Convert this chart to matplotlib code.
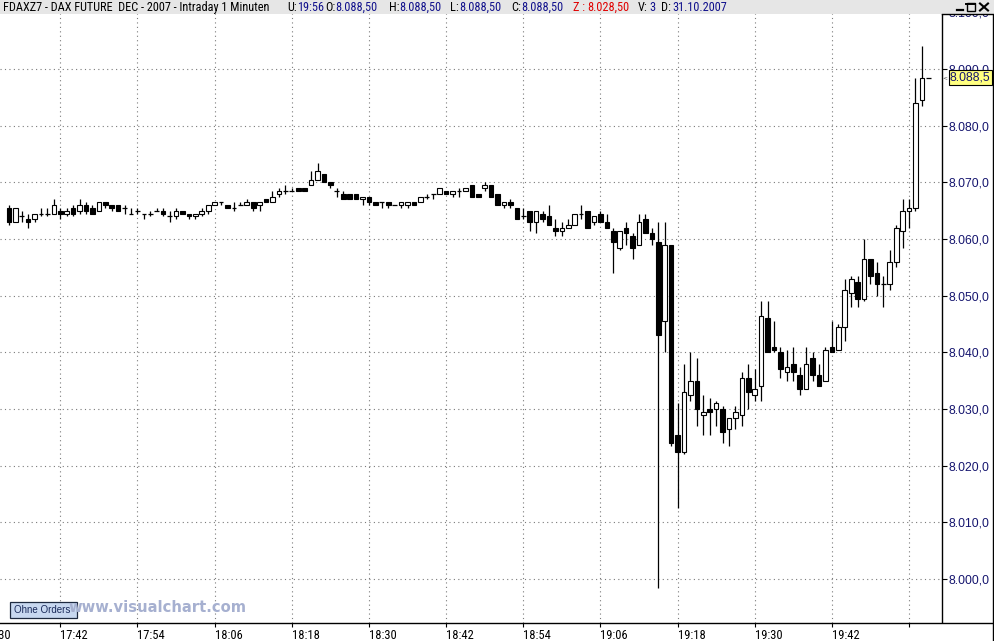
import matplotlib
matplotlib.use("Agg")
import matplotlib.pyplot as plt
from matplotlib.patches import Rectangle
from matplotlib.lines import Line2D
import matplotlib.font_manager as fm

# ---------------- data (1-minute bars, FDAX Dec 2007, 31.10.2007) ----------------
start_time = "17:34"
opens = [8065.5, 8063, 8064, 8063.5, 8063.5, 8064.5, 8064.5, 8064.5,
         8065, 8064.5, 8065.5, 8065, 8066, 8065.5, 8065, 8066.5, 8066, 8066, 8065.5, 8064.5,
         8065, 8064.5, 8064.5, 8065, 8065, 8064, 8064, 8065, 8064.5, 8064, 8064.5, 8065,
         8066, 8066.5, 8066, 8065.5, 8066, 8066, 8066.5, 8066, 8067, 8066.5, 8068, 8068.5,
         8068.5, 8069, 8069, 8069.5, 8070.5, 8071.5, 8070, 8068.5, 8068, 8068, 8068, 8067,
         8067.5, 8066.5, 8066.5, 8066.5, 8066, 8066, 8066, 8066.5, 8066.5, 8067.5, 8068, 8068,
         8068.5, 8068, 8068.5, 8068.5, 8069.5, 8068, 8069, 8069.5, 8068, 8066, 8066.5, 8065.5,
         8064, 8065, 8063, 8064.5, 8064, 8062, 8061.5, 8062, 8062.5, 8064.5, 8065, 8063,
         8064.5, 8063, 8061.5, 8058.5, 8062, 8060.5, 8059, 8063.5, 8061, 8059.5, 8045.5, 8059,
         8025.5, 8022.5, 8032.5, 8035, 8029, 8030, 8030, 8030, 8026.5, 8028.5, 8029, 8035.5,
         8032.5, 8034, 8046, 8041, 8040, 8036.5, 8038, 8036, 8033.5, 8039, 8036, 8035,
         8041, 8040.5, 8044.5, 8050.5, 8052.5, 8049.5, 8056.5, 8054, 8052, 8052, 8056, 8061.5,
         8065, 8065.5, 8084.5]
highs = [8066, 8065.5, 8065, 8064.5, 8064.5, 8065.5, 8065.5, 8067,
         8065.5, 8065.5, 8066, 8067, 8066.5, 8066, 8066.5, 8066.5, 8066, 8066, 8066, 8065.5,
         8065.5, 8064.5, 8065, 8065.5, 8065.5, 8065, 8065.5, 8065, 8064.5, 8064.5, 8065.5, 8066,
         8066.5, 8066.5, 8066, 8066.5, 8066.5, 8067, 8066.5, 8066.5, 8067, 8068.5, 8069, 8069.5,
         8069, 8069, 8069, 8072, 8073.5, 8071.5, 8070, 8069, 8068.5, 8068, 8068, 8067.5,
         8067.5, 8066.5, 8066.5, 8066.5, 8066, 8066.5, 8066.5, 8066.5, 8067.5, 8068, 8068, 8069,
         8068.5, 8068.5, 8069, 8069, 8069.5, 8068, 8070, 8069.5, 8068, 8066.5, 8067, 8065.5,
         8065.5, 8065, 8065, 8065, 8066, 8063.5, 8063, 8063.5, 8064.5, 8066, 8065, 8064,
         8065, 8064.5, 8062, 8061.5, 8063, 8061, 8064.5, 8064.5, 8062, 8063, 8063, 8059,
         8031, 8038, 8040, 8039, 8032.5, 8032, 8031.5, 8030.5, 8028.5, 8030.5, 8036.5, 8038,
         8037, 8049, 8049, 8045.5, 8041, 8040.5, 8041, 8037.5, 8041, 8040, 8038, 8041,
         8045.5, 8045, 8053, 8053.5, 8053.5, 8060, 8056.5, 8056, 8053.5, 8058, 8062.5, 8067,
         8067, 8088.5, 8094]
lows = [8062.5, 8063, 8063, 8062, 8063, 8064, 8064, 8064.5,
        8063.5, 8064, 8064, 8064.5, 8064.5, 8064.5, 8065, 8065.5, 8065, 8065, 8064.5, 8064.5,
        8064.5, 8063.5, 8064, 8065, 8064, 8063, 8063.5, 8064.5, 8063.5, 8063.5, 8064, 8064.5,
        8066, 8066, 8065.5, 8065, 8066, 8066, 8065, 8065, 8066.5, 8066.5, 8067.5, 8068,
        8068.5, 8068.5, 8068.5, 8069.5, 8070.5, 8070, 8069, 8067.5, 8067, 8067, 8067, 8066,
        8066, 8066, 8065.5, 8065.5, 8066, 8065.5, 8065.5, 8066, 8066.5, 8067, 8067, 8068,
        8068, 8067.5, 8067.5, 8068.5, 8067.5, 8067.5, 8068.5, 8067.5, 8066, 8065.5, 8065.5, 8063.5,
        8063.5, 8061.5, 8061, 8063, 8062.5, 8060.5, 8060.5, 8062, 8062.5, 8063.5, 8062, 8062.5,
        8063, 8062, 8054, 8058, 8059, 8056.5, 8059, 8061, 8059, 7998.5, 8040, 8023.5,
        8012.5, 8022, 8031.5, 8027, 8025.5, 8025.5, 8027, 8024, 8023.5, 8026.5, 8027, 8030,
        8031.5, 8031.5, 8040, 8040, 8035.5, 8035, 8035, 8032.5, 8033.5, 8035, 8034, 8035,
        8040, 8040.5, 8042, 8048, 8048, 8049, 8052, 8050, 8048, 8051, 8055, 8058.5,
        8062, 8065, 8083.5]
closes = [8063, 8065.5, 8064, 8063, 8064.5, 8064.5, 8064.5, 8066,
          8064.5, 8065, 8064.5, 8066, 8065, 8064.5, 8066.5, 8066, 8065.5, 8065, 8065.5, 8064.5,
          8065, 8064.5, 8064.5, 8065, 8064.5, 8064, 8065, 8064.5, 8064, 8064.5, 8065, 8066,
          8066.5, 8066.5, 8065.5, 8065.5, 8066, 8066.5, 8065.5, 8066.5, 8066.5, 8067.5, 8068.5, 8068.5,
          8068.5, 8068.5, 8068.5, 8070.5, 8072, 8070, 8069.5, 8068.5, 8067, 8067, 8067, 8067.5,
          8066.5, 8066, 8066.5, 8066, 8066, 8066.5, 8066.5, 8066, 8067.5, 8067.5, 8068, 8069,
          8068, 8068.5, 8068.5, 8069, 8067.5, 8067.5, 8069.5, 8067.5, 8066, 8066.5, 8066, 8063.5,
          8064, 8063, 8065, 8063.5, 8062.5, 8061.5, 8062, 8062.5, 8064.5, 8064.5, 8062, 8064,
          8063, 8062, 8059.5, 8061.5, 8061, 8058.5, 8063, 8061, 8060, 8043, 8059, 8024,
          8022.5, 8033, 8035, 8030, 8029.5, 8029.5, 8031, 8026, 8028.5, 8029.5, 8035.5, 8033,
          8033.5, 8046.5, 8040, 8040.5, 8037, 8037.5, 8036.5, 8033.5, 8038, 8036, 8034, 8040.5,
          8040, 8044.5, 8051, 8053, 8049.5, 8056.5, 8053.5, 8052, 8052, 8056, 8062, 8065,
          8065.5, 8084, 8088.5]
tick_labels = ["17:30", "17:42", "17:54", "18:06", "18:18", "18:30", "18:42",
               "18:54", "19:06", "19:18", "19:30", "19:42", "19:54"]
y_ticks = [8000, 8010, 8020, 8030, 8040, 8050, 8060, 8070, 8080, 8090, 8100]
last_price = 8088.5

# ---------------- helpers ----------------
def minutes(t):
    h, m = t.split(":")
    return int(h) * 60 + int(m)

def de_fmt(v, nd=1):
    return f"{v:,.{nd}f}".replace(",", "X").replace(".", ",").replace("X", ".")

t0 = minutes(start_time)
xs = list(range(len(opens)))

avail = {f.name for f in fm.fontManager.ttflist}
NARROW = None
for cand in ["Liberation Sans Narrow", "Arial Narrow", "Roboto Condensed", "Open Sans Condensed"]:
    if cand in avail:
        NARROW = cand
        break
SANS = "Liberation Sans"
if NARROW:
    HDR_FONT, HDR_SIZE, XT_FONT, XT_SIZE = NARROW, 8.8, NARROW, 9.0
else:
    HDR_FONT, HDR_SIZE, XT_FONT, XT_SIZE = SANS, 7.5, SANS, 8.2

W, H = 994, 641
fig = plt.figure(figsize=(W / 100, H / 100), dpi=100)
fig.patch.set_facecolor("white")

def fx(px):
    return px / W

def fy(py):
    return 1 - py / H

AX_TOP, AX_BOT, AX_RIGHT = 12.0, 622.5, 942.0
ax = fig.add_axes([0, fy(AX_BOT), fx(AX_RIGHT), fy(AX_TOP) - fy(AX_BOT)])

# pixel geometry of the reference: 8090 at y=69, 5.667 px per point; 17:42 at x=60.3, 6.43 px/min
PPP, Y8090 = 5.667, 69.0
PPM, X1742 = 6.43, 60.3
i1742 = minutes("17:42") - t0
ax.set_ylim(8090 - (AX_BOT - Y8090) / PPP, 8090 + (Y8090 - AX_TOP) / PPP)
ax.set_xlim(i1742 - X1742 / PPM, i1742 + (AX_RIGHT - X1742) / PPM)

# grid
ax.grid(True, linestyle=(0, (1, 3)), color="#7a7a7a", linewidth=0.8)
ax.set_axisbelow(True)

# candles
bw = 0.72
for x, o, h, l, c in zip(xs, opens, highs, lows, closes):
    ax.vlines(x, l, h, color="black", linewidth=0.9, zorder=3)
    if abs(c - o) < 1e-9:
        ax.hlines(o, x - bw / 2, x + bw / 2, color="black", linewidth=0.9, zorder=4)
    else:
        face = "white" if c > o else "black"
        ax.bar(x, abs(c - o), bottom=min(o, c), width=bw, color=face,
               edgecolor="black", linewidth=0.8, zorder=4)

# last price dash right of last candle
lx = xs[-1]
ax.hlines(last_price, lx + 0.65, lx + 1.35, color="black", linewidth=0.9, zorder=4)

# axes styling
for s in ("top", "left", "bottom"):
    ax.spines[s].set_visible(False)
ax.spines["right"].set_linewidth(1.0)
ax.yaxis.tick_right()
ax.set_yticks(y_ticks)
ax.set_yticklabels([de_fmt(v) for v in y_ticks])
ax.tick_params(axis="y", direction="out", length=3.6, width=0.8, pad=1,
               labelsize=8.7, colors="black")
for t in ax.get_yticklabels():
    t.set_color("#14146e")
    t.set_fontfamily(SANS)

tick_pos = [minutes(t) - t0 for t in tick_labels]
vis = [(p, lab) for p, lab in zip(tick_pos, tick_labels) if p >= ax.get_xlim()[0]]
ax.set_xticks([p for p, _ in vis])
ax.set_xticklabels([lab if p < ax.get_xlim()[1] - 8 else "" for p, lab in vis])
ax.tick_params(axis="x", direction="out", length=3, width=0.8, pad=1.5,
               labelsize=XT_SIZE, colors="black")
for t in ax.get_xticklabels():
    t.set_horizontalalignment("left")
    t.set_fontfamily(XT_FONT)
# label of the tick that lies left of the view (only its tail is visible)
for p, lab in zip(tick_pos, tick_labels):
    if p < ax.get_xlim()[0]:
        ax.text(p, -6.3 / (AX_BOT - AX_TOP), lab, transform=ax.get_xaxis_transform(),
                ha="left", va="top", fontsize=XT_SIZE, family=XT_FONT, clip_on=False)

# last price label (yellow)
ax.text(1 + 8.0 / AX_RIGHT, last_price, de_fmt(last_price),
        transform=ax.get_yaxis_transform(), ha="left", va="center",
        fontsize=8.7, family=SANS, color="#14146e", clip_on=False, zorder=6,
        bbox=dict(boxstyle="square,pad=0.1", facecolor="#ffff80", edgecolor="black", linewidth=0.8))
ax.text(1 + 0.8 / AX_RIGHT, last_price, "<", transform=ax.get_yaxis_transform(),
        ha="left", va="center", fontsize=4.2, color="#404040", clip_on=False, zorder=6)

# frame lines in figure space
fig.add_artist(Line2D([0, 1], [fy(AX_BOT), fy(AX_BOT)], transform=fig.transFigure,
                      color="black", linewidth=1.0))
fig.add_artist(Line2D([fx(993), fx(993)], [fy(13.5), 0], transform=fig.transFigure,
                      color="black", linewidth=1.0))
fig.add_artist(Line2D([fx(942), fx(993)], [fy(13.5), fy(13.5)], transform=fig.transFigure,
                      color="black", linewidth=1.0, zorder=12))

# header bar
fig.add_artist(Rectangle((0, fy(13.5)), 1, 13.5 / H, transform=fig.transFigure,
                         facecolor="#e6e6e6", edgecolor="none", zorder=10))
NAVY, RED = "#10108c", "#e00000"
hy = fy(7.2)
header = [
    (3, "FDAXZ7 - DAX FUTURE  DEC - 2007 - Intraday 1 Minuten", "black"),
    (287, "U:", "black"), (297, "19:56", NAVY),
    (325, "O:", "black"), (335, "8.088,50", NAVY),
    (389, "H:", "black"), (399, "8.088,50", NAVY),
    (450, "L:", "black"), (459, "8.088,50", NAVY),
    (511, "C:", "black"), (521, "8.088,50", NAVY),
    (573, "Z :", RED), (587, "8.028,50", RED),
    (638, "V:", "black"), (649, "3", NAVY),
    (661, "D:", "black"), (672, "31.10.2007", NAVY),
]
for x, s, col in header:
    fig.text(fx(x), hy, s, ha="left", va="center", fontsize=HDR_SIZE,
             family=HDR_FONT, color=col, zorder=11)

# window buttons
fig.add_artist(Line2D([fx(957), fx(963)], [fy(10), fy(10)], transform=fig.transFigure,
                      color="black", linewidth=1.6, zorder=11))
fig.add_artist(Rectangle((fx(967), fy(10.5)), fx(8), 7.5 / H, transform=fig.transFigure,
                         facecolor="none", edgecolor="black", linewidth=1.0, zorder=11))
fig.add_artist(Line2D([fx(966), fx(975)], [fy(3.5), fy(3.5)], transform=fig.transFigure,
                      color="black", linewidth=1.4, zorder=11))
fig.add_artist(Line2D([fx(980), fx(988)], [fy(3.5), fy(10.5)], transform=fig.transFigure,
                      color="black", linewidth=1.5, zorder=11))
fig.add_artist(Line2D([fx(980), fx(988)], [fy(10.5), fy(3.5)], transform=fig.transFigure,
                      color="black", linewidth=1.5, zorder=11))

# "Ohne Orders" button + watermark
fig.add_artist(Rectangle((fx(9.5), fy(617.5)), fx(67), 15.5 / H, transform=fig.transFigure,
                         facecolor="#c8d8f0", edgecolor="#1e2a40", linewidth=0.9, zorder=8))
fig.text(fx(42), fy(610), "Ohne Orders", ha="center", va="center", fontsize=7.0,
         family=SANS, color="#1a2a5a", zorder=9)
fig.text(fx(68.5), fy(612), "www.visualchart.com", ha="left", va="baseline",
         fontsize=10.6, family="DejaVu Sans", fontweight="bold", color="#a6b0d0", zorder=9)

fig.savefig("out.png", dpi=100)
